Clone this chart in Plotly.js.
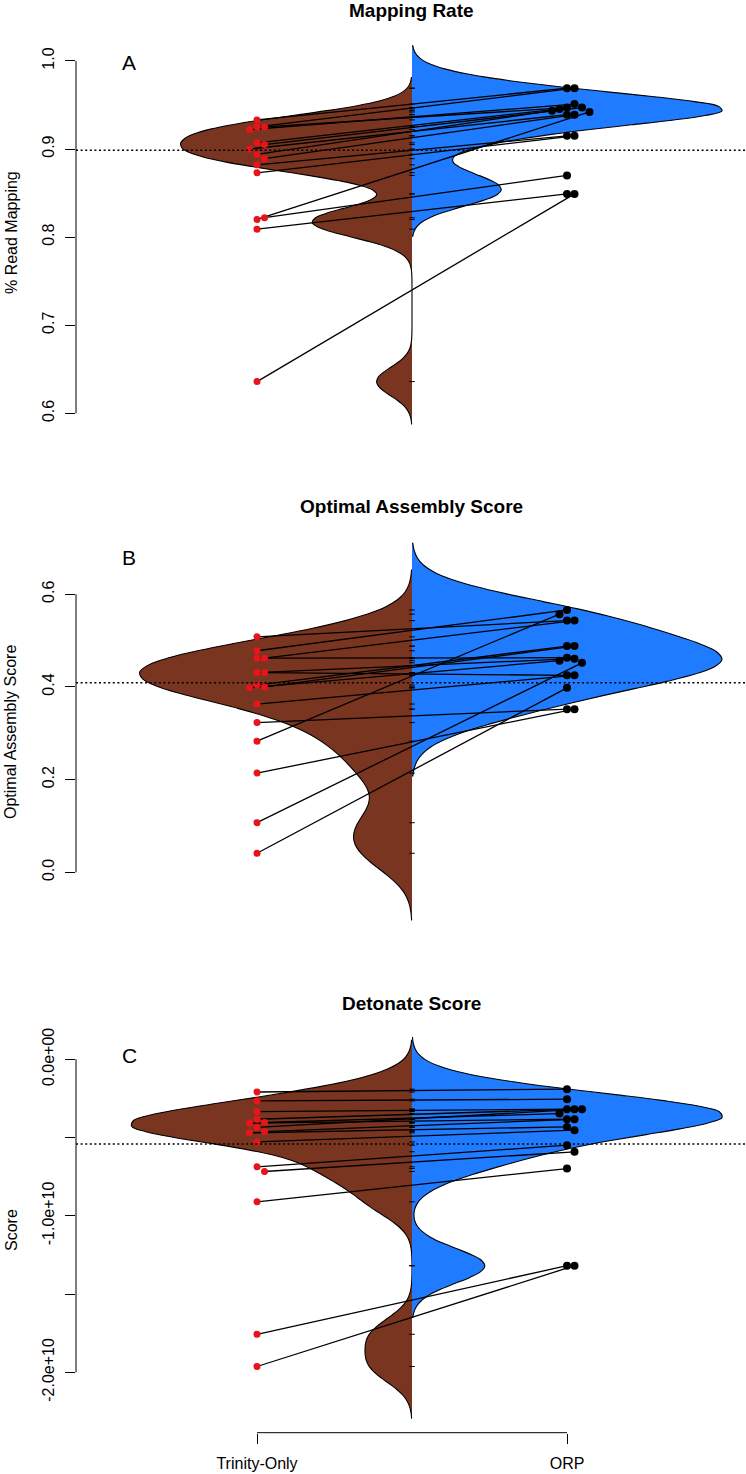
<!DOCTYPE html>
<html><head><meta charset="utf-8">
<script src="https://cdn.plot.ly/plotly-3.0.1.min.js"></script>
<style>html,body{margin:0;padding:0;background:#fff}#chart{width:746px;height:1474px}</style>
</head><body><div id="chart"></div>
<script>
// ---------------- data ----------------
const groupLabels = ['Trinity-Only', 'ORP'];
const panelTitles = ['Mapping Rate', 'Optimal Assembly Score', 'Detonate Score'];
const panelLetters = ['A', 'B', 'C'];
const yTitles = ['% Read Mapping', 'Optimal Assembly Score', 'Score'];

// Panel A (pairs: index i of Trinity-Only is joined to index i of ORP)
const mapTrinity = [0.933, 0.925, 0.925, 0.922, 0.907, 0.905, 0.900, 0.894, 0.889, 0.882, 0.873, 0.820, 0.822, 0.809, 0.636];
const mapORP     = [0.969, 0.969, 0.947, 0.951, 0.9455, 0.947, 0.939, 0.9435, 0.939, 0.915, 0.915, 0.942, 0.870, 0.849, 0.849];
// Panel B
const oasTrinity = [0.508, 0.478, 0.462, 0.462, 0.431, 0.431, 0.404, 0.400, 0.398, 0.363, 0.323, 0.283, 0.214, 0.107, 0.041];
const oasORP     = [0.543, 0.566, 0.463, 0.543, 0.461, 0.425, 0.488, 0.488, 0.4565, 0.425, 0.352, 0.557, 0.352, 0.452, 0.398];
// Panel C
const detTrinity = [-2.09e9, -2.66e9, -3.34e9, -3.83e9, -4.04e9, -4.08e9, -4.35e9, -4.62e9, -4.70e9, -5.28e9, -6.87e9, -7.17e9, -9.11e9, -1.757e10, -1.963e10];
const detORP     = [-1.91e9, -2.55e9, -3.19e9, -3.19e9, -3.47e9, -3.83e9, -3.19e9, -3.83e9, -4.32e9, -4.53e9, -5.49e9, -5.91e9, -6.98e9, -1.319e10, -1.319e10];

// overall (dotted) line per panel
const overallLine = [0.8985, 0.409, -5.41e9];
// kernel bandwidth per panel (common to both sides)
const bandwidths = [0.016, 0.048, 1.1e9];

const tickValsA = [0.6, 0.7, 0.8, 0.9, 1.0];
const tickTextA = ['0.6', '0.7', '0.8', '0.9', '1.0'];
const tickValsB = [0.0, 0.2, 0.4, 0.6];
const tickTextB = ['0.0', '0.2', '0.4', '0.6'];
const tickValsC = [0, -5e9, -1e10, -1.5e10, -2e10];
const tickTextC = ['0.0e+00', '', '-1.0e+10', '', '-2.0e+10'];

// ---------------- layout geometry ----------------
const W = 746, H = 1474;
const FONT = "'Liberation Sans', Arial, Helvetica, sans-serif";
const plotLeftPx = 76;
const xRange = [0.4161, 2.5774];
const BROWN = '#7a3520';
const BLUE = '#1f7bff';
const RED = '#e8141a';
const MAX_HALF_WIDTH = 1.0; // data units on the x axis

const panels = [
  {trin: mapTrinity, orp: mapORP, top: 30, bottom: 440, range: [0.56969, 1.03507], tv: tickValsA, tt: tickTextA,
   titleY: 10.5, letterY: 62, yTitleY: 233},
  {trin: oasTrinity, orp: oasORP, top: 525, bottom: 935, range: [-0.13528, 0.74930], tv: tickValsB, tt: tickTextB,
   titleY: 507, letterY: 558, yTitleY: 732},
  {trin: detTrinity, orp: detORP, top: 1020, bottom: 1432.7, range: [-2.386e10, 2.511e9], tv: tickValsC, tt: tickTextC,
   titleY: 1003.5, letterY: 1055, yTitleY: 1230}
];

const pxX = (W - plotLeftPx) / (xRange[1] - xRange[0]);

// Gaussian KDE maximum over the drawn span (used to give both halves a common density scale)
function kdeMax(vals, bw) {
  const lo = Math.min(...vals) - 3 * bw, hi = Math.max(...vals) + 3 * bw;
  const n = vals.length, N = 1024;
  let best = 0;
  for (let j = 0; j <= N; j++) {
    const x = lo + (hi - lo) * j / N;
    let s = 0;
    for (const v of vals) { const z = (x - v) / bw; s += Math.exp(-0.5 * z * z); }
    s /= n * bw * Math.sqrt(2 * Math.PI);
    if (s > best) best = s;
  }
  return best;
}

function swarm(vals, base, pxY) {
  const placed = [];
  const step = 7.5 / pxX;
  const order = [0, 1, -1, 2, -2, 3, -3, 4, -4];
  return vals.map(v => {
    for (const k of order) {
      const x = base + k * step;
      const clash = placed.some(p => Math.abs((p.x - x) * pxX) < 7 && Math.abs((p.y - v) * pxY) < 7);
      if (!clash) { placed.push({x, y: v}); return x; }
    }
    placed.push({x: base, y: v});
    return base;
  });
}

const traces = [];
const shapes = [];
const annotations = [];
const layout = {
  width: W, height: H,
  margin: {l: 0, r: 0, t: 0, b: 0},
  paper_bgcolor: 'white', plot_bgcolor: 'white',
  showlegend: false,
  font: {family: FONT, color: 'black', size: 16}
};

panels.forEach((p, i) => {
  const sfx = i === 0 ? '' : String(i + 1);
  const xa = 'x' + sfx, ya = 'y' + sfx;
  const bw = bandwidths[i];
  const dom = [1 - p.bottom / H, 1 - p.top / H];
  const pxY = (p.bottom - p.top) / (p.range[1] - p.range[0]);

  const isLast = i === panels.length - 1;
  layout['xaxis' + sfx] = {
    domain: [plotLeftPx / W, 1], range: xRange, type: 'linear', anchor: ya,
    showgrid: false, zeroline: false, showline: false,
    tickmode: 'array', tickvals: isLast ? [1, 2] : [], ticktext: isLast ? groupLabels : [],
    ticks: isLast ? 'outside' : '', ticklen: 10, tickwidth: 1, tickcolor: 'black',
    ticklabelstandoff: 6,
    showticklabels: isLast, tickfont: {family: FONT, size: 16, color: 'black'}
  };
  layout['yaxis' + sfx] = {
    domain: dom, range: p.range, type: 'linear', anchor: xa,
    showgrid: false, zeroline: false, showline: false,
    tickmode: 'array', tickvals: p.tv, ticktext: p.tt,
    ticks: 'outside', ticklen: 10, tickwidth: 1, tickcolor: 'black', tickangle: -90,
    ticklabelstandoff: 5,
    tickfont: {family: FONT, size: 16, color: 'black'}
  };

  const mT = kdeMax(p.trin, bw), mO = kdeMax(p.orp, bw);
  const mAll = Math.max(mT, mO);

  const violin = (vals, side, color, m) => ({
    type: 'violin', y: vals, x0: 1.5, xaxis: xa, yaxis: ya,
    side: side, width: 2 * MAX_HALF_WIDTH * m / mAll, bandwidth: bw, spanmode: 'manual',
    span: [Math.min(...vals) - 3 * bw, Math.max(...vals) + 3 * bw],
    scalemode: 'width',
    points: false, box: {visible: false}, meanline: {visible: false},
    fillcolor: color, line: {color: 'black', width: 1.1},
    hoverinfo: 'skip', showlegend: false
  });
  traces.push(violin(p.trin, 'negative', BROWN, mT));
  traces.push(violin(p.orp, 'positive', BLUE, mO));

  // small bean lines at the centre
  traces.push({
    type: 'scatter', mode: 'markers', xaxis: xa, yaxis: ya,
    x: p.trin.concat(p.orp).map(() => 1.5), y: p.trin.concat(p.orp),
    marker: {symbol: 'line-ew', size: 4, line: {color: 'black', width: 1}},
    hoverinfo: 'skip'
  });

  const xT = swarm(p.trin, 1, pxY);
  const xO = swarm(p.orp, 2, pxY);
  const lx = [], ly = [];
  p.trin.forEach((v, k) => { lx.push(xT[k], xO[k], null); ly.push(v, p.orp[k], null); });
  traces.push({type: 'scatter', mode: 'lines', xaxis: xa, yaxis: ya, x: lx, y: ly,
    line: {color: 'black', width: 1.3}, hoverinfo: 'skip', connectgaps: false});
  traces.push({type: 'scatter', mode: 'markers', xaxis: xa, yaxis: ya, x: xT, y: p.trin,
    marker: {color: RED, size: 7}, hoverinfo: 'skip'});
  traces.push({type: 'scatter', mode: 'markers', xaxis: xa, yaxis: ya, x: xO, y: p.orp,
    marker: {color: 'black', size: 8}, hoverinfo: 'skip'});

  // R-style y axis line between first and last tick
  shapes.push({type: 'line', xref: 'paper', yref: ya, x0: plotLeftPx / W, x1: plotLeftPx / W,
    y0: Math.min(...p.tv), y1: Math.max(...p.tv), line: {color: 'black', width: 1}});
  // overall dotted line
  shapes.push({type: 'line', xref: 'paper', yref: ya, x0: plotLeftPx / W, x1: 1,
    y0: overallLine[i], y1: overallLine[i], line: {color: 'black', width: 1.6, dash: '2px,2.6px'}});
  if (isLast) {
    shapes.push({type: 'line', xref: xa, yref: 'paper', x0: 1, x1: 2, y0: dom[0], y1: dom[0],
      line: {color: 'black', width: 1}});
  }

  annotations.push({xref: 'paper', yref: 'paper', x: 411 / W, y: 1 - p.titleY / H, xanchor: 'center', yanchor: 'middle',
    text: '<b>' + panelTitles[i] + '</b>', showarrow: false, font: {family: FONT, size: 19, color: 'black'}});
  annotations.push({xref: 'paper', yref: 'paper', x: 129 / W, y: 1 - p.letterY / H, xanchor: 'center', yanchor: 'middle',
    text: panelLetters[i], showarrow: false, font: {family: FONT, size: 21, color: 'black'}});
  annotations.push({xref: 'paper', yref: 'paper', x: 11 / W, y: 1 - p.yTitleY / H, xanchor: 'center', yanchor: 'middle',
    text: yTitles[i], textangle: -90, showarrow: false, font: {family: FONT, size: 16, color: 'black'}});
});

layout.shapes = shapes;
layout.annotations = annotations;

Plotly.newPlot('chart', traces, layout, {staticPlot: true, displayModeBar: false});
</script>
</body></html>
